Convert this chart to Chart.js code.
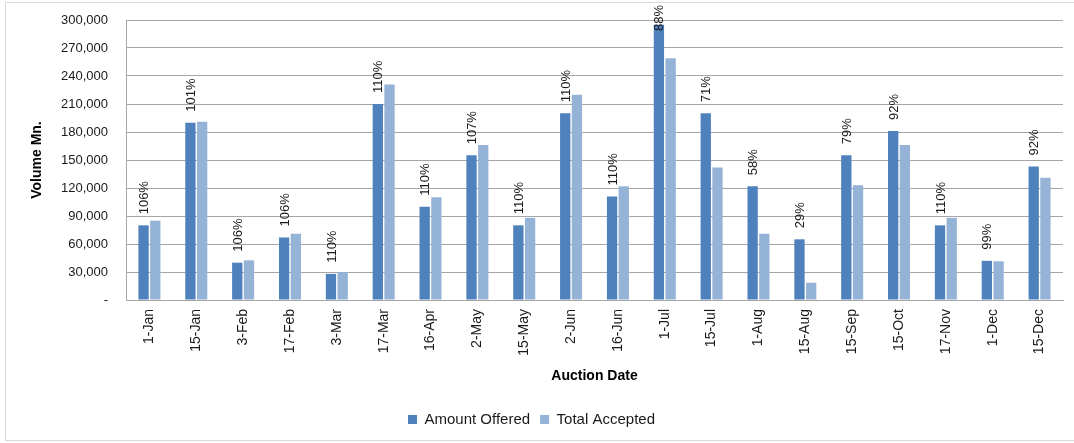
<!DOCTYPE html>
<html>
<head>
<meta charset="utf-8">
<script src="https://cdn.jsdelivr.net/npm/chart.js@4/dist/chart.umd.min.js"></script>
<style>
  html, body { margin: 0; padding: 0; background: #fff; }
  #wrap { position: relative; width: 1074px; height: 443px; }
</style>
</head>
<body>
<div id="wrap"><canvas id="auctionChart"></canvas></div>
<script>
const categories = ['1-Jan', '15-Jan', '3-Feb', '17-Feb', '3-Mar', '17-Mar', '16-Apr', '2-May', '15-May', '2-Jun',
  '16-Jun', '1-Jul', '15-Jul', '1-Aug', '15-Aug', '15-Sep', '15-Oct', '17-Nov', '1-Dec', '15-Dec']
const amountOffered = [80000, 190000, 40000, 67000, 28000, 210000, 100000, 155000, 80000, 200000,
  111000, 295000, 200000, 122000, 65000, 155000, 181000, 80000, 42000, 143000]
const totalAccepted = [85000, 191000, 42500, 71000, 30000, 231000, 110000, 166000, 88000, 220000,
  122000, 259000, 142000, 71000, 18500, 123000, 166000, 88000, 41500, 131000]
const pctLabels = ['106%', '101%', '106%', '106%', '110%', '110%', '110%', '107%', '110%', '110%',
  '110%', '88%', '71%', '58%', '29%', '79%', '92%', '110%', '99%', '92%']

const FONT = "'Liberation Sans', Arial, sans-serif"

// white page + thin grey frame round the whole chart
const framePlugin = {
  id: 'frame',
  beforeDraw(chart) {
    const ctx = chart.ctx
    ctx.save()
    ctx.fillStyle = '#fff'
    ctx.fillRect(0, 0, chart.width, chart.height)
    ctx.strokeStyle = '#d9d9d9'
    ctx.lineWidth = 1
    ctx.strokeRect(5.5, 2.5, 1080, 438)
    ctx.restore()
  }
}

// rotated percent labels above the "Amount Offered" bars
const pctPlugin = {
  id: 'pctLabels',
  afterDatasetsDraw(chart) {
    const ctx = chart.ctx
    const meta = chart.getDatasetMeta(0)
    ctx.save()
    ctx.font = '13px ' + FONT
    ctx.fillStyle = '#1a1a1a'
    ctx.textAlign = 'left'
    ctx.textBaseline = 'middle'
    meta.data.forEach((bar, i) => {
      const text = pctLabels[i]
      const w = ctx.measureText(text).width
      let y = bar.y - 11
      if (y - w < 5) y = 5 + w
      ctx.save()
      ctx.translate(bar.x, y)
      ctx.rotate(-Math.PI / 2)
      ctx.fillText(text, 0, 1)
      ctx.restore()
    })
    ctx.restore()
  }
}

new Chart(document.getElementById('auctionChart'), {
  type: 'bar',
  data: {
    labels: categories,
    datasets: [
      {
        label: 'Amount Offered',
        data: amountOffered,
        backgroundColor: '#4F81BD',
        categoryPercentage: 0.5,
        barPercentage: 0.88
      },
      {
        label: 'Total Accepted',
        data: totalAccepted,
        backgroundColor: '#95B3D7',
        categoryPercentage: 0.5,
        barPercentage: 0.88
      }
    ]
  },
  options: {
    responsive: true,
    maintainAspectRatio: false,
    animation: false,
    layout: {
      padding: {left: 0, right: 11, top: 20, bottom: 6}
    },
    plugins: {
      legend: {
        position: 'bottom',
        labels: {
          font: {family: FONT, size: 15},
          color: '#1a1a1a',
          boxWidth: 9,
          boxHeight: 9,
          padding: 10
        }
      },
      tooltip: {enabled: false}
    },
    scales: {
      x: {
        grid: {display: false, drawTicks: false},
        border: {display: true, color: '#a6a6a6', width: 1},
        ticks: {
          font: {family: FONT, size: 14},
          color: '#1a1a1a',
          minRotation: 90,
          maxRotation: 90,
          padding: 9,
          autoSkip: false
        },
        title: {
          display: true,
          text: 'Auction Date',
          font: {family: FONT, size: 14, weight: 'bold'},
          color: '#000',
          padding: {top: 0, bottom: 17}
        },
        afterFit(scale) {
          scale.height = 102
        }
      },
      y: {
        min: 0,
        max: 300000,
        grid: {color: '#a6a6a6', lineWidth: 1, drawTicks: false},
        border: {display: true, color: '#a6a6a6', width: 1},
        ticks: {
          stepSize: 30000,
          font: {family: FONT, size: 13},
          color: '#1a1a1a',
          padding: 18,
          callback: (v) => v === 0 ? '-' : v.toLocaleString('en-US')
        },
        title: {
          display: true,
          text: 'Volume Mn.',
          font: {family: FONT, size: 14, weight: 'bold'},
          color: '#000',
          padding: {top: 29, bottom: 0}
        },
        afterFit(scale) {
          scale.width = 126
          // tick padding otherwise pushes the plot top down
          scale.paddingTop = 8
          scale.paddingBottom = 8
        }
      }
    }
  },
  plugins: [framePlugin, pctPlugin]
})
</script>
</body>
</html>
